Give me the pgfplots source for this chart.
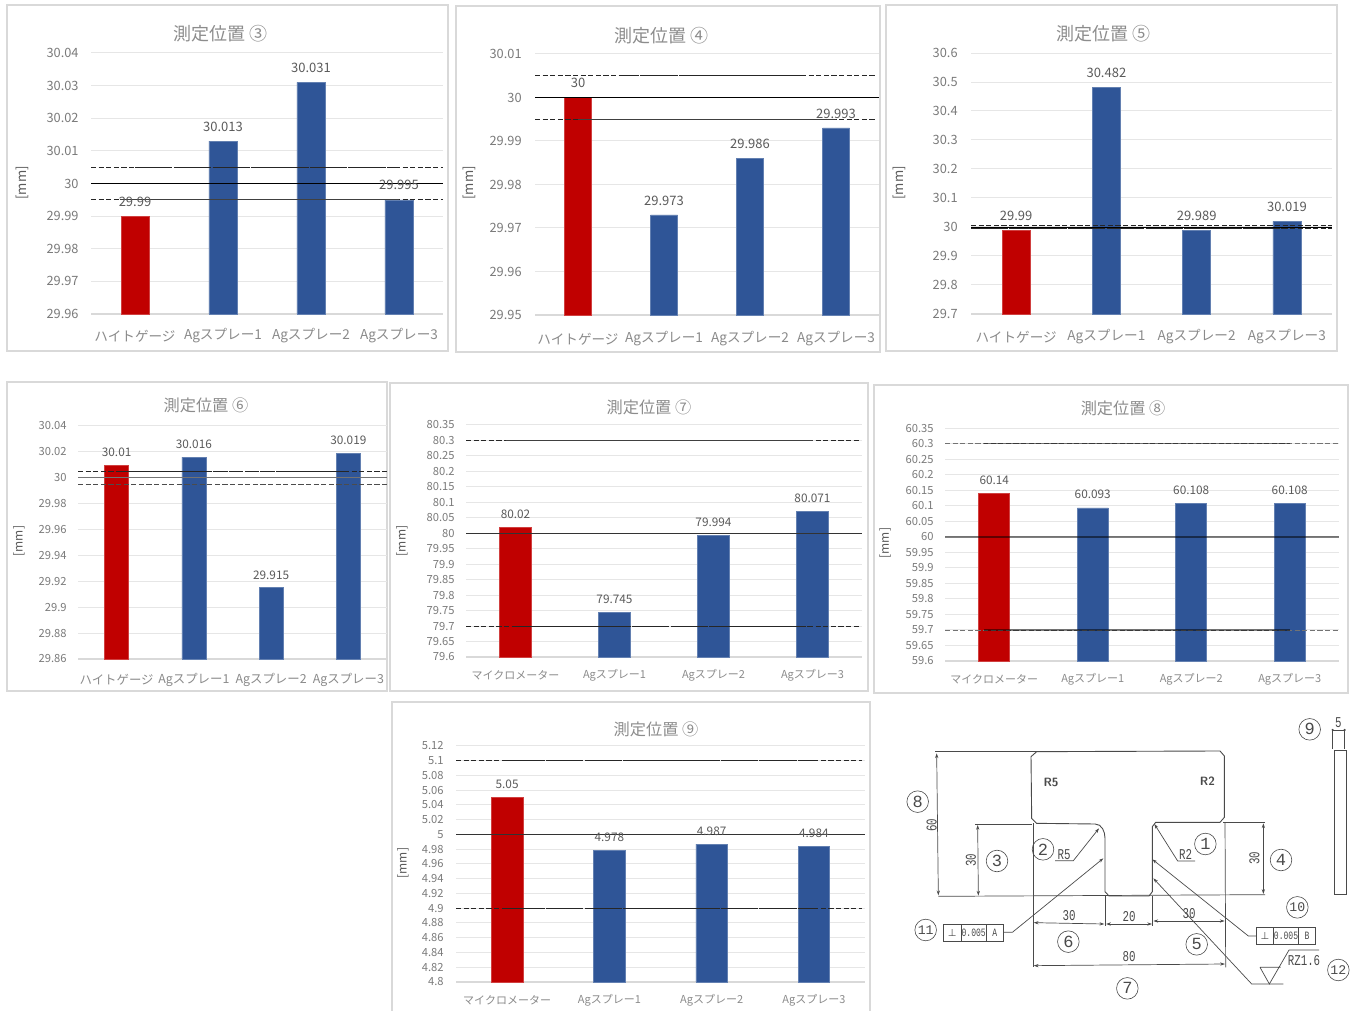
\documentclass[border=0pt]{standalone}
\usepackage{fontspec}
\usepackage{pgfplots}
\pgfplotsset{compat=1.18}
\usetikzlibrary{arrows.meta}
\setmainfont{Noto Sans CJK JP}
\newfontfamily\dimfont{Liberation Mono}
\newfontfamily\symfont{DejaVu Sans}

\definecolor{barred}{HTML}{C00000}
\definecolor{barblue}{HTML}{2F5597}
\definecolor{gridc}{HTML}{E6E6E6}
\definecolor{framec}{HTML}{D9D9D9}
\definecolor{tickc}{HTML}{7A7A7A}
\definecolor{valc}{HTML}{5A5A5A}
\definecolor{titlec}{HTML}{8C8C8C}
\definecolor{catc}{HTML}{8A8A8A}
\definecolor{inkc}{HTML}{4A4A4A}

\newcommand\fs[1]{\fontsize{#1pt}{#1pt}\selectfont}
% condensed lettering of the drawing's dimension values
\newcommand\nar[1]{\scalebox{0.72}[1]{#1}}

\pgfplotsset{
  panel/.style={
    scale only axis, anchor=south west, ymin=0,
    xmin=-0.5, xmax=3.5, xtick={0,1,2,3},
    axis x line*=bottom, axis y line*=left,
    x axis line style={draw=framec, line width=0.6pt},
    y axis line style={draw=none},
    major tick length=0pt, ymajorgrids,
    major grid style={draw=gridc, line width=0.5pt},
    scaled y ticks=false,
    /pgf/number format/fixed, /pgf/number format/precision=3,
    /pgf/number format/assume math mode=true,
    title style={anchor=center, yshift=-6pt},
    ylabel={[mm]},
    clip=false,
  },
  big/.style={
    ticklabel style={text=tickc},
    y tick label style={font=\fs{6.4}, inner sep=0pt},
    x tick label style={font=\fs{6.8}, text=catc, inner sep=0pt, anchor=center},
    title style={font=\fs{9}, text=titlec},
    ylabel style={font=\fs{6.6}, text=valc, anchor=center},
    every node near coord/.append style={font=\fs{6.5}, text=valc, anchor=center, yshift=7.25pt},
  },
  small/.style={
    ticklabel style={text=tickc},
    y tick label style={font=\fs{5.6}, inner sep=0pt},
    x tick label style={font=\fs{5.5}, text=catc, inner sep=0pt, anchor=center},
    title style={font=\fs{8.1}, text=titlec},
    ylabel style={font=\fs{6}, text=valc, anchor=center},
    every node near coord/.append style={font=\fs{5.9}, text=valc, anchor=center, yshift=6.6pt},
  },
  redbar/.style={ybar, bar shift=0pt, fill=barred, draw=barred!75!white, line width=0.3pt, nodes near coords, point meta=y},
  bluebar/.style={ybar, bar shift=0pt, fill=barblue, draw=barblue!75!white, line width=0.3pt, nodes near coords, point meta=y},
  nominal/.style={no marks, black, line width=0.45pt},
  limit/.style={no marks, black!85, line width=0.4pt, dash pattern=on 2.6pt off 1.2pt},
  limitlong/.style={no marks, black!85, line width=0.4pt, dash pattern=on 9pt off 0.7pt},
  limitsolid/.style={no marks, black!75, line width=0.45pt},
}

\begin{document}
\begin{tikzpicture}[x=1pt,y=1pt]
\path[use as bounding box] (0,0) rectangle (677,505.5);

% chart frames
\begin{scope}[draw=framec, line width=0.75pt]
\draw (3.5,330) rectangle (224,503);
\draw (228,329.5) rectangle (440,502.5);
\draw (443,330) rectangle (668.5,503);
\draw (3.5,160) rectangle (193.5,314.5);
\draw (195,160) rectangle (434,314);
\draw (437,159) rectangle (674,313);
\draw (196,0) -- (196,154.5) -- (435,154.5) -- (435,0);
\end{scope}

% position 3
\begin{axis}[panel, big, at={(45.5pt,348.5pt)}, width=176pt, height=130.5pt, bar width=14pt,
  ymin=29.96, ymax=30.04,
  ytick={29.96,29.97,29.98,29.99,30,30.01,30.02,30.03,30.04},
  y tick label style={xshift=-6pt}, x tick label style={yshift=-11pt},
  xticklabels={ハイトゲージ,Agスプレー1,Agスプレー2,Agスプレー3},
  title={測定位置 ③}, title style={at={(axis description cs:0.369,1.073)}},
  ylabel style={at={(axis description cs:-0.196,0.502)}}]
\addplot[redbar] coordinates {(0,29.99)};
\addplot[bluebar] coordinates {(1,30.013)(2,30.031)(3,29.995)};
\addplot[limit] coordinates {(-0.5,30.005)(3.5,30.005)};
\addplot[limitlong] coordinates {(0,30.005)(3,30.005)};
\addplot[nominal] coordinates {(-0.5,30)(3.5,30)};
\addplot[limit] coordinates {(-0.5,29.995)(3.5,29.995)};
\addplot[limitsolid] coordinates {(-0.17,29.995)(3,29.995)};
\end{axis}

% position 4
\begin{axis}[panel, big, at={(267.5pt,348pt)}, width=172pt, height=130.5pt, bar width=13.5pt,
  ymin=29.95, ymax=30.01,
  ytick={29.95,29.96,29.97,29.98,29.99,30,30.01},
  y tick label style={xshift=-6.5pt}, x tick label style={yshift=-12pt},
  xticklabels={ハイトゲージ,Agスプレー1,Agスプレー2,Agスプレー3},
  title={測定位置 ④}, title style={at={(axis description cs:0.369,1.069)}},
  ylabel style={at={(axis description cs:-0.192,0.506)}}]
\addplot[redbar] coordinates {(0,30)};
\addplot[bluebar] coordinates {(1,29.973)(2,29.986)(3,29.993)};
\addplot[limit] coordinates {(-0.5,30.005)(3.47,30.005)};
\addplot[limitlong] coordinates {(0.5,30.005)(2.6,30.005)};
\addplot[nominal] coordinates {(-0.5,30)(3.5,30)};
\addplot[limit] coordinates {(-0.5,29.995)(3.47,29.995)};
\addplot[limitsolid] coordinates {(0,29.995)(3,29.995)};
\end{axis}

% position 5
\begin{axis}[panel, big, at={(485.5pt,348.5pt)}, width=180.5pt, height=130.5pt, bar width=14pt,
  ymin=29.7, ymax=30.6,
  ytick={29.7,29.8,29.9,30,30.1,30.2,30.3,30.4,30.5,30.6},
  y tick label style={xshift=-6.5pt}, x tick label style={yshift=-11.5pt},
  xticklabels={ハイトゲージ,Agスプレー1,Agスプレー2,Agスプレー3},
  title={測定位置 ⑤}, title style={at={(axis description cs:0.366,1.073)}},
  ylabel style={at={(axis description cs:-0.199,0.502)}}]
\addplot[redbar] coordinates {(0,29.99)};
\addplot[bluebar] coordinates {(1,30.482)(2,29.989)(3,30.019)};
\addplot[limit] coordinates {(-0.5,30.005)(3.5,30.005)};
\addplot[nominal] coordinates {(-0.5,30)(3.5,30)};
\addplot[limit] coordinates {(-0.5,29.995)(3.5,29.995)};
\addplot[limitlong] coordinates {(-0.5,29.995)(3,29.995)};
\end{axis}

% position 6
\begin{axis}[panel, small, at={(39pt,176pt)}, width=154.5pt, height=116.5pt, bar width=12pt,
  ymin=29.86, ymax=30.04,
  ytick={29.86,29.88,29.9,29.92,29.94,29.96,29.98,30,30.02,30.04},
  y tick label style={xshift=-5.5pt},
  x tick label style={yshift=-10.5pt, font=\fs{6.2}},
  xticklabels={ハイトゲージ,Agスプレー1,Agスプレー2,Agスプレー3},
  title={測定位置 ⑥}, title style={at={(axis description cs:0.414,1.09)}},
  ylabel style={at={(axis description cs:-0.191,0.506)}},
  every node near coord/.append style={yshift=-0.2pt}]
\addplot[redbar] coordinates {(0,30.01)};
\addplot[bluebar] coordinates {(1,30.016)(2,29.915)(3,30.019)};
\addplot[limit] coordinates {(-0.5,30.005)(3.5,30.005)};
\addplot[limit, dash pattern=on 7pt off 1pt] coordinates {(0,30.005)(3,30.005)};
\addplot[nominal, black!55, line width=0.7pt] coordinates {(-0.5,30)(3.5,30)};
\addplot[limit, black!70] coordinates {(-0.5,29.995)(3.5,29.995)};
\end{axis}

% position 7
\begin{axis}[panel, small, at={(233pt,177pt)}, width=198pt, height=116pt, bar width=15.75pt,
  ymin=79.6, ymax=80.35,
  ytick={79.6,79.65,79.7,79.75,79.8,79.85,79.9,79.95,80,80.05,80.1,80.15,80.2,80.25,80.3,80.35},
  y tick label style={xshift=-5.5pt}, x tick label style={yshift=-9pt},
  xticklabels={マイクロメーター,Agスプレー1,Agスプレー2,Agスプレー3},
  title={測定位置 ⑦}, title style={at={(axis description cs:0.462,1.078)}},
  ylabel style={at={(axis description cs:-0.162,0.5)}}]
\addplot[redbar] coordinates {(0,80.02)};
\addplot[bluebar] coordinates {(1,79.745)(2,79.994)(3,80.071)};
\addplot[limit] coordinates {(-0.5,80.3)(3.47,80.3)};
\addplot[limitsolid] coordinates {(-0.1,80.3)(3,80.3)};
\addplot[nominal, black!80] coordinates {(-0.5,80)(3.5,80)};
\addplot[limit] coordinates {(-0.5,79.7)(3.47,79.7)};
\addplot[limitlong] coordinates {(0,79.7)(3,79.7)};
\end{axis}

% position 8
\begin{axis}[panel, small, at={(472.5pt,175pt)}, width=197pt, height=116.5pt, bar width=15.5pt,
  ymin=59.6, ymax=60.35,
  ytick={59.6,59.65,59.7,59.75,59.8,59.85,59.9,59.95,60,60.05,60.1,60.15,60.2,60.25,60.3,60.35},
  y tick label style={xshift=-5.5pt}, x tick label style={yshift=-9pt},
  xticklabels={マイクロメーター,Agスプレー1,Agスプレー2,Agスプレー3},
  title={測定位置 ⑧}, title style={at={(axis description cs:0.452,1.086)}},
  ylabel style={at={(axis description cs:-0.152,0.506)}}]
\addplot[redbar] coordinates {(0,60.14)};
\addplot[bluebar] coordinates {(1,60.093)(2,60.108)(3,60.108)};
\addplot[limit, black!55] coordinates {(-0.5,60.3)(3.5,60.3)};
\addplot[limitsolid, black, opacity=0.5, line width=0.6pt] coordinates {(-0.1,60.3)(3,60.3)};
\addplot[nominal, black, opacity=0.5, line width=0.8pt] coordinates {(-0.5,60)(3.5,60)};
\addplot[limit, black!55] coordinates {(-0.5,59.7)(3.5,59.7)};
\addplot[limitsolid, black, opacity=0.5, line width=0.6pt] coordinates {(-0.1,59.7)(3,59.7)};
\end{axis}

% position 9
\begin{axis}[panel, small, at={(228pt,14.5pt)}, width=204.5pt, height=118pt, bar width=15.75pt,
  ymin=4.8, ymax=5.12,
  ytick={4.8,4.82,4.84,4.86,4.88,4.9,4.92,4.94,4.96,4.98,5,5.02,5.04,5.06,5.08,5.1,5.12},
  y tick label style={xshift=-6pt}, x tick label style={yshift=-9pt},
  xticklabels={マイクロメーター,Agスプレー1,Agスプレー2,Agスプレー3},
  title={測定位置 ⑨}, title style={at={(axis description cs:0.489,1.072)}},
  ylabel style={at={(axis description cs:-0.13,0.504)}}]
\addplot[redbar] coordinates {(0,5.05)};
\addplot[bluebar] coordinates {(1,4.978)(2,4.987)(3,4.984)};
\addplot[limit] coordinates {(-0.5,5.1)(3.47,5.1)};
\addplot[limitlong] coordinates {(0,5.1)(3,5.1)};
\addplot[nominal, black!80] coordinates {(-0.5,5)(3.5,5)};
\addplot[limit] coordinates {(-0.5,4.9)(3.47,4.9)};
\addplot[limitlong] coordinates {(0,4.9)(3,4.9)};
\end{axis}

% part drawing with measurement positions
\begin{scope}[shift={(447.5,155.5)}, x=0.16667pt, y=-0.16667pt,
    draw=inkc, line width=0.35pt, >={Stealth[length=2.4pt,width=1.6pt]},
    dim/.style={font=\dimfont\fs{7.5}, text=inkc, inner sep=0pt},
    num/.style={draw=inkc, circle, minimum size=10.8pt, inner sep=0pt, font=\dimfont\fs{8.5}, text=inkc, line width=0.3pt},
    numtwo/.style={num, font=\dimfont\fs{6.6}}]
% outline
\draw[line width=0.45pt] (425,155) -- (975,153) -- (988,168) -- (988,352) -- (975,367) -- (782,367) -- (772,380)
  -- (772,575) -- (762,588) -- (642,588) -- (630,575) -- (630,415) to[out=90,in=0] (600,372)
  -- (425,370) -- (410,355) -- (408,170) -- cycle;
\draw[line width=0.45pt] (1317,150) rectangle (1355,583);
% extension lines
\draw (120,155) -- (425,155);
\draw (240,372) -- (412,372);
\draw (130,589) -- (1110,584);
\draw (985,367) -- (1110,367);
\draw (414,370) -- (414,802);
\draw (990,367) -- (992,802);
\draw (630,588) -- (630,678);
\draw (773,588) -- (773,678);
\draw (1313,90) -- (1313,148);
\draw (1349,90) -- (1349,148);
% dimension arrows
\draw[<->] (125,160) -- (130,586);
\draw[<->] (248,375) -- (250,587);
\draw[<->] (1105,370) -- (1105,582);
\draw[<->] (416,668) -- (628,672);
\draw[<->] (633,672) -- (771,672);
\draw[<->] (775,663) -- (989,663);
\draw[<->] (416,797) -- (990,792);
\fill[inkc] (1313,90) circle (0.6pt) (1349,90) circle (0.6pt);
\draw (1313,90) -- (1349,90);
% dimension values
\node[dim, rotate=90] at (110,375) {\nar{60}};
\node[dim, rotate=90] at (228,480) {\nar{30}};
\node[dim, rotate=90] at (1078,475) {\nar{30}};
\node[dim] at (522,647) {\nar{30}};
\node[dim] at (702,650) {\nar{20}};
\node[dim] at (882,640) {\nar{30}};
\node[dim] at (702,770) {\nar{80}};
\node[dim] at (1330,68) {\nar{5}};
\node[font=\sffamily\bfseries\fs{6}, text=inkc, inner sep=0pt] at (468,246) {R5};
\node[font=\sffamily\bfseries\fs{6}, text=inkc, inner sep=0pt] at (937,243) {R2};
% radius leaders
\draw[->] (480,482) -- (535,482) -- (612,385);
\node[dim] at (507,463) {\nar{R5}};
\draw[->] (900,483) -- (848,483) -- (778,372);
\node[dim] at (872,463) {\nar{R2}};
% perpendicularity callouts
\draw (146,672) rectangle (325,723) (198,672) -- (198,723) (273,672) -- (273,723);
\node[font=\symfont\fs{5}, text=inkc, inner sep=0pt] at (172,698) {⊥};
\node[dim, font=\dimfont\fs{5.6}] at (236,698) {\nar{0.005}};
\node[dim, font=\dimfont\fs{5.6}] at (299,698) {\nar{A}};
\draw[->] (325,697) -- (352,697) -- (625,475);
\draw (1084,682) rectangle (1262,733) (1135,682) -- (1135,733) (1211,682) -- (1211,733);
\node[font=\symfont\fs{5}, text=inkc, inner sep=0pt] at (1110,708) {⊥};
\node[dim, font=\dimfont\fs{5.6}] at (1173,708) {\nar{0.005}};
\node[dim, font=\dimfont\fs{5.6}] at (1236,708) {\nar{B}};
\draw[->] (1084,708) -- (1060,708) -- (772,478);
% surface finish symbol
\draw[->] (1165,852) -- (1070,852) -- (775,535);
\draw (1095,802) -- (1157,802) (1095,802) -- (1123,852) -- (1182,750) -- (1272,750);
\node[dim] at (1227,782) {\nar{RZ1.6}};
% position numbers
\node[num] at (931,432) {1};
\node[num] at (444,448) {2};
\node[num] at (306,483) {3};
\node[num] at (1158,480) {4};
\node[num] at (905,733) {5};
\node[num] at (520,725) {6};
\node[num] at (697,865) {7};
\node[num] at (68,305) {8};
\node[num] at (1244,88) {9};
\node[numtwo] at (1207,622) {10};
\node[numtwo] at (92,690) {11};
\node[numtwo] at (1330,810) {12};
\end{scope}
\end{tikzpicture}
\end{document}
